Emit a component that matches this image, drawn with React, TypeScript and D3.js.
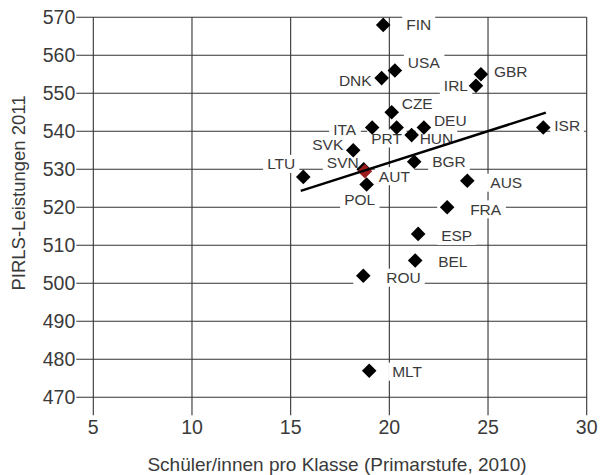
import React, { useEffect, useRef } from "react";
import * as d3 from "d3";

// PIRLS 2011 reading scores vs. pupils per class (primary, 2010)
const countries = ["FIN", "USA", "DNK", "GBR", "IRL", "CZE", "ITA", "PRT", "DEU", "HUN", "ISR", "SVK", "BGR", "SVN", "AUT", "LTU", "POL", "AUS", "FRA", "ESP", "BEL", "ROU", "MLT"];
const classSize = [19.69, 20.28, 19.61, 24.64, 24.39, 20.12, 19.13, 20.37, 21.75, 21.13, 27.8, 18.17, 21.26, 18.7, 18.76, 15.64, 18.85, 23.95, 22.93, 21.46, 21.31, 18.68, 18.98];
const pirls = [568, 556, 554, 555, 552, 545, 541, 541, 541, 539, 541, 535, 532, 530, 529.5, 528, 526, 527, 520, 513, 506, 502, 477];
const highlight = "AUT";

// trend line end points
const trendX = [15.51, 27.93];
const trendY = [524.3, 544.9];

const xTicks = [5, 10, 15, 20, 25, 30];
const yTicks = [470, 480, 490, 500, 510, 520, 530, 540, 550, 560, 570];

// label placement: offset from the marker centre, text anchor
const labelDx = [23, 13, -10, 13, -8, 10, -16, -10, 10, 8, 11, -10, 18, -5, 14, -8, -7, 23, 23, 23, 23, 23, 23];
const labelDy = [0, -8, 2, -3, 0, -9, 2, 11, -7, 3, -2, -6, 0, -7, 5, -13, 15, 2, 2, 2, 1, 2, 1];
const labelAnchor = ["start", "start", "end", "start", "end", "start", "end", "middle", "start", "start", "start", "end", "start", "end", "start", "end", "middle", "start", "start", "start", "start", "start", "start"];
// labels whose white box reaches back to the marker
const wideBox = ["FRA", "ROU"];

export default function App() {
	const svgRef = useRef(null);

	useEffect(() => {
		document.body.style.margin = "0";
		const svg = d3.select(svgRef.current);
		svg.selectAll("*").remove();

		const width = 600;
		const height = 475;
		const x = d3.scaleLinear().domain([5, 30]).range([93.3, 586.7]);
		const y = d3.scaleLinear().domain([470, 570]).range([397.3, 17.3]);
		const font = "'Liberation Sans', Arial, sans-serif";
		const ink = "#3a3a3a";

		svg.attr("width", width).attr("height", height).style("font-family", font);

		const points = countries.map((c, i) => ({
			name: c,
			x: classSize[i],
			y: pirls[i],
			dx: labelDx[i],
			dy: labelDy[i],
			anchor: labelAnchor[i],
		}));

		// grid
		const grid = svg.append("g").attr("stroke", "#333").attr("stroke-width", 1.1);
		grid
			.selectAll("line.h")
			.data(yTicks)
			.join("line")
			.attr("x1", x(5) - 17)
			.attr("x2", x(30))
			.attr("y1", (d) => y(d))
			.attr("y2", (d) => y(d));
		grid
			.selectAll("line.v")
			.data(xTicks)
			.join("line")
			.attr("class", "v")
			.attr("x1", (d) => x(d))
			.attr("x2", (d) => x(d))
			.attr("y1", y(570))
			.attr("y2", y(470) + 18);

		// tick labels
		svg
			.append("g")
			.selectAll("text")
			.data(yTicks)
			.join("text")
			.attr("x", x(5) - 18)
			.attr("y", (d) => y(d))
			.attr("dy", "0.36em")
			.attr("text-anchor", "end")
			.attr("font-size", 19.5)
			.attr("fill", ink)
			.text((d) => d);
		svg
			.append("g")
			.selectAll("text")
			.data(xTicks)
			.join("text")
			.attr("x", (d) => x(d))
			.attr("y", 427)
			.attr("dy", "0.36em")
			.attr("text-anchor", "middle")
			.attr("font-size", 19.5)
			.attr("fill", ink)
			.text((d) => d);

		// axis titles
		svg
			.append("text")
			.attr("x", (x(5) + x(30)) / 2 - 3)
			.attr("y", 471)
			.attr("text-anchor", "middle")
			.attr("font-size", 19)
			.attr("fill", ink)
			.text("Schüler/innen pro Klasse (Primarstufe, 2010)");
		svg
			.append("text")
			.attr("transform", "translate(25,193) rotate(-90)")
			.attr("text-anchor", "middle")
			.attr("font-size", 18.5)
			.attr("fill", ink)
			.text("PIRLS-Leistungen 2011");

		// country labels with white boxes
		const labels = svg.append("g");
		const boxes = labels.append("g");
		const texts = labels
			.append("g")
			.selectAll("text")
			.data(points)
			.join("text")
			.attr("x", (d) => x(d.x) + d.dx)
			.attr("y", (d) => y(d.y) + d.dy)
			.attr("dy", "0.36em")
			.attr("text-anchor", (d) => d.anchor)
			.attr("font-size", 15.5)
			.attr("fill", ink)
			.text((d) => d.name);
		texts.each(function (d) {
			const b = (this as SVGTextElement).getBBox();
			let x0 = b.x - 4;
			if (wideBox.includes(d.name)) x0 = x(d.x) - 10;
			boxes
				.append("rect")
				.attr("x", x0)
				.attr("y", y(d.y) + d.dy - 9)
				.attr("width", b.x + b.width + 4 - x0)
				.attr("height", 18)
				.attr("fill", "white");
		});

		// markers
		const r = 7.3;
		svg
			.append("g")
			.selectAll("path")
			.data(points)
			.join("path")
			.attr("transform", (d) => `translate(${x(d.x)},${y(d.y)})`)
			.attr("d", `M0,${-r}L${r},0L0,${r}L${-r},0Z`)
			.attr("fill", (d) => (d.name === highlight ? "#9b1b1f" : "#000"));

		// trend line
		svg
			.append("path")
			.datum(trendX.map((v, i) => [v, trendY[i]]))
			.attr("fill", "none")
			.attr("stroke", "#000")
			.attr("stroke-width", 2.4)
			.attr(
				"d",
				d3
					.line()
					.x((d) => x(d[0]))
					.y((d) => y(d[1])),
			);
	}, []);

	return <svg ref={svgRef} style={{ display: "block" }} />;
}
